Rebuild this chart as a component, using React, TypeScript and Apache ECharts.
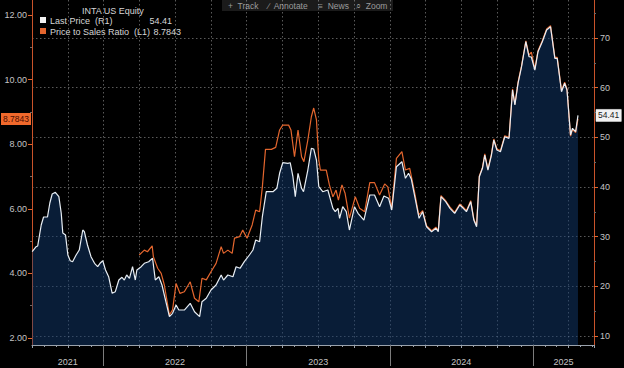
import React, { useEffect, useRef } from "react";
import * as echarts from "echarts";

// Last Price (R1) — dates and values
const priceDates = [
  "2021-07-03","2021-07-13","2021-07-17","2021-07-26","2021-08-01","2021-08-11","2021-08-17","2021-08-23","2021-08-31","2021-09-09",
  "2021-09-15","2021-09-19","2021-09-26","2021-10-02","2021-10-08","2021-10-14","2021-10-23","2021-10-31","2021-11-09","2021-11-13",
  "2021-11-21","2021-11-30","2021-12-09","2021-12-17","2021-12-23","2021-12-30","2022-01-06","2022-01-14","2022-01-23","2022-01-31",
  "2022-02-09","2022-02-17","2022-02-23","2022-03-01","2022-03-08","2022-03-16","2022-03-23","2022-03-27","2022-04-07","2022-04-15",
  "2022-04-26","2022-05-06","2022-05-13","2022-05-22","2022-05-30","2022-06-08","2022-06-18","2022-06-26","2022-07-05","2022-07-12",
  "2022-07-26","2022-08-10","2022-08-21","2022-09-03","2022-09-09","2022-09-20","2022-10-02","2022-10-15","2022-10-28","2022-11-03",
  "2022-11-14","2022-11-27","2022-12-05","2022-12-15","2022-12-26","2023-01-08","2023-01-17","2023-01-24","2023-02-03","2023-02-10",
  "2023-02-20","2023-03-09","2023-03-19","2023-03-26","2023-04-03","2023-04-16","2023-04-22","2023-04-29","2023-05-05","2023-05-12",
  "2023-05-21","2023-05-26","2023-06-06","2023-06-15","2023-06-21","2023-06-28","2023-07-04","2023-07-14","2023-07-27","2023-08-09",
  "2023-08-15","2023-08-22","2023-08-26","2023-09-03","2023-09-12","2023-09-20","2023-10-03","2023-10-12","2023-10-27","2023-11-11",
  "2023-11-23","2023-12-06","2023-12-17","2023-12-29","2024-01-06","2024-01-18","2024-02-01","2024-02-10","2024-02-18","2024-02-25",
  "2024-03-05","2024-03-16","2024-03-25","2024-04-04","2024-04-17","2024-04-28","2024-05-04","2024-05-11","2024-05-23","2024-06-03",
  "2024-06-15","2024-06-28","2024-07-07","2024-07-15","2024-07-26","2024-08-03","2024-08-10","2024-08-17","2024-08-25","2024-08-31",
  "2024-09-08","2024-09-17","2024-09-23","2024-10-01","2024-10-10","2024-10-21","2024-11-01","2024-11-10","2024-11-16","2024-11-24",
  "2024-12-03","2024-12-14","2024-12-22","2024-12-28","2025-01-06","2025-01-14","2025-01-25","2025-02-05","2025-02-15","2025-02-26",
  "2025-03-04","2025-03-15","2025-03-23","2025-03-29","2025-04-07","2025-04-12","2025-04-20","2025-04-26",
];
const priceValues = [
  26.97,27.98,28.12,32.35,33.96,33.96,36.78,38.59,38.93,38.05,
  34.76,30.74,30.33,26.31,25.16,24.96,26.31,27.31,31.34,31.0,
  28.32,25.97,24.64,23.95,24.64,25.16,23.29,21.94,18.6,18.92,
  21.27,21.82,21.27,22.28,21.62,23.95,21.27,23.29,23.95,24.64,
  24.96,25.64,21.27,21.94,20.27,17.25,13.89,14.57,16.24,15.23,
  15.23,16.58,14.89,13.89,16.91,17.59,19.26,20.27,22.28,21.27,
  22.28,21.94,23.95,23.63,24.96,26.31,27.31,29.33,28.99,34.02,
  39.05,39.05,39.74,42.76,44.89,44.77,44.89,42.07,38.05,42.76,
  39.74,39.05,43.42,47.79,47.65,45.43,40.06,39.05,39.39,35.71,
  35.03,35.71,33.7,36.03,35.03,31.34,36.03,34.7,33.35,38.39,
  38.39,36.03,38.19,37.72,35.37,44.08,45.09,41.75,42.76,41.61,
  38.05,33.7,35.03,32.0,31.0,31.68,31.0,38.05,37.04,35.71,
  34.7,36.37,35.71,35.03,37.04,33.35,32.0,42.07,43.76,46.44,
  43.42,46.44,49.46,47.45,47.1,50.12,49.8,59.53,56.51,60.88,
  64.22,69.25,66.23,66.17,63.55,67.24,69.25,71.61,72.27,65.91,
  65.91,59.19,60.88,59.53,50.47,51.82,51.13,54.41,
];

// Price to Sales Ratio (L1) — dates and values
const psDates = [
  "2022-04-02","2022-04-15","2022-04-23","2022-05-05","2022-05-08","2022-05-19","2022-05-28","2022-06-05","2022-06-18","2022-06-26",
  "2022-07-05","2022-07-15","2022-07-26","2022-08-10","2022-08-21","2022-09-01","2022-09-09","2022-09-20","2022-10-02","2022-10-15",
  "2022-10-28","2022-11-03","2022-11-14","2022-11-25","2022-12-01","2022-12-14","2022-12-22","2023-01-02","2023-01-15","2023-01-24",
  "2023-02-03","2023-02-10","2023-02-18","2023-03-05","2023-03-16","2023-03-26","2023-04-03","2023-04-18","2023-04-24","2023-05-03",
  "2023-05-12","2023-05-21","2023-05-27","2023-06-06","2023-06-15","2023-06-21","2023-06-28","2023-07-04","2023-07-08","2023-07-23",
  "2023-07-31","2023-08-09","2023-08-17","2023-08-23","2023-09-01","2023-09-09","2023-09-20","2023-10-05","2023-10-16","2023-10-29",
  "2023-11-11","2023-11-23","2023-12-06","2023-12-19","2023-12-27","2024-01-06","2024-01-18","2024-02-01","2024-02-10","2024-02-21",
  "2024-03-05","2024-03-15","2024-03-25","2024-04-04","2024-04-17","2024-04-28","2024-05-04","2024-05-11","2024-05-23","2024-06-03",
  "2024-06-15","2024-06-28","2024-07-07","2024-07-15","2024-07-26","2024-08-03","2024-08-10","2024-08-17","2024-08-25","2024-08-31",
  "2024-09-08","2024-09-17","2024-09-23","2024-10-01","2024-10-10","2024-10-21","2024-11-01","2024-11-10","2024-11-16","2024-11-24",
  "2024-12-03","2024-12-14","2024-12-22","2024-12-28","2025-01-06","2025-01-14","2025-01-25","2025-02-05","2025-02-15","2025-02-26",
  "2025-03-04","2025-03-15","2025-03-23","2025-03-29","2025-04-07","2025-04-12","2025-04-20","2025-04-26",
];
const psValues = [
  4.57,4.72,4.67,4.85,4.52,4.16,4.0,3.64,2.71,2.87,
  3.69,3.38,3.43,3.74,3.23,3.12,3.85,3.8,4.05,4.31,
  4.83,4.62,4.72,4.62,5.09,5.14,5.34,5.09,5.5,5.96,
  5.91,6.68,7.84,7.84,7.9,8.44,8.59,8.59,8.44,7.61,
  8.44,7.61,7.46,8.13,8.85,9.12,8.75,7.51,7.2,7.2,
  6.74,6.37,6.58,6.27,6.74,6.48,5.71,6.37,6.02,5.91,
  6.81,6.81,6.43,6.77,6.68,6.02,7.56,7.77,7.2,7.25,
  6.48,5.81,5.94,5.48,5.32,5.43,5.32,6.41,6.25,6.05,
  5.89,6.15,6.05,5.94,6.25,5.68,5.48,7.02,7.28,7.7,
  7.23,7.7,8.16,7.85,7.8,8.26,8.21,9.71,9.24,9.92,
  10.43,11.2,10.76,10.85,10.33,10.89,11.2,11.57,11.67,10.69,
  10.69,9.66,9.92,9.71,8.25,8.46,8.36,8.7843,
];

const leftTicks = [2, 4, 6, 8, 10, 12];
const leftMinorTicks = [3, 5, 7, 9, 11];
const rightTicks = [10, 20, 30, 40, 50, 60, 70];
const rightMinorTicks = [15, 25, 35, 45, 55, 65, 75];
const years = [2021, 2022, 2023, 2024, 2025];
const yearBoundaries = [2022, 2023, 2024, 2025];

const TICKER = "INTA US Equity";
const PRICE_NAME = "Last Price  (R1)";
const PS_NAME = "Price to Sales Ratio  (L1)";
const toolbarItems = ["+  Track", "\u2215  Annotate", "\u2261  News", "\u2315  Zoom"];

const X_MIN = 2021.5;
const X_MAX = 2025.427;
const L_MIN = 1.783;
const L_MAX = 12.464;
const R_MIN = 8.188;
const R_MAX = 77.65;

const FONT = "'Liberation Sans', Arial, sans-serif";
const ORANGE = "#e4662e";
const AXIS_ORANGE = "#c9532a";
const WHITE = "#e8eef4";
const LABEL = "#c4c4c4";

function toYear(s: string): number {
  const [y, m, d] = s.split("-").map(Number);
  const start = Date.UTC(y, 0, 1);
  const len = Date.UTC(y + 1, 0, 1) - start;
  return y + (Date.UTC(y, m - 1, d) - start) / len;
}

export default function App() {
  const ref = useRef<HTMLDivElement>(null);
  useEffect(() => {
    const chart = echarts.init(ref.current!, null, { renderer: "svg" });
    const priceData = priceDates.map((d, i) => [toYear(d), priceValues[i]]);
    const psData = psDates.map((d, i) => [toYear(d), psValues[i]]);
    const lastPrice = priceValues[priceValues.length - 1];
    const lastPs = psValues[psValues.length - 1];
    const yearCenters = years.map((y) => (Math.max(y, X_MIN) + Math.min(y + 1, X_MAX)) / 2);

    const gridLine = { show: true, lineStyle: { color: "rgba(215,215,215,0.42)", type: [1.5, 2.5], width: 1 } };

    const toolbarChildren: any[] = [
      { type: "rect", shape: { x: 222, y: 0, width: 171, height: 11 }, style: { fill: "#1b1b1b" } },
    ];
    const toolbarX = [228, 268, 318, 356];
    toolbarItems.forEach((t, i) => {
      toolbarChildren.push({
        type: "text",
        x: toolbarX[i],
        y: 5.5,
        style: { text: t, fill: "#9c9c9c", fontSize: 8.5, fontFamily: FONT, textVerticalAlign: "middle" },
      });
    });

    const hiddenLine = { width: 0, color: "rgba(0,0,0,0)", opacity: 1 };

    const option: any = {
      animation: false,
      backgroundColor: "#000",
      textStyle: { fontFamily: FONT },
      grid: { left: 32, right: 30, top: 0, bottom: 23, containLabel: false },
      xAxis: [
        {
          type: "value",
          min: X_MIN,
          max: X_MAX,
          interval: 0.25,
          axisLine: { show: true, onZero: false, lineStyle: { color: "#9aa2ac", width: 1 } },
          axisTick: { show: true, length: 3, lineStyle: { color: "#9aa2ac" } },
          minorTick: { show: true, splitNumber: 3, length: 2, lineStyle: { color: "#9aa2ac" } },
          axisLabel: { show: false },
          splitLine: gridLine,
        },
        {
          type: "value",
          min: X_MIN,
          max: X_MAX,
          position: "bottom",
          axisLine: { show: false, onZero: false },
          axisTick: { show: true, customValues: yearBoundaries, length: 21, lineStyle: { color: "#7c7c7c", width: 1 } },
          axisLabel: {
            show: true,
            customValues: yearCenters,
            formatter: (v: number) => String(Math.floor(v)),
            color: LABEL,
            fontSize: 9,
            margin: 12,
          },
          splitLine: { show: false },
        },
      ],
      yAxis: [
        {
          type: "value",
          position: "left",
          min: L_MIN,
          max: L_MAX,
          axisLine: { show: true, onZero: false, lineStyle: { color: AXIS_ORANGE, width: 1 } },
          axisTick: { show: true, customValues: leftTicks, length: 4, lineStyle: { color: ORANGE, width: 1 } },
          axisLabel: {
            show: true,
            customValues: leftTicks,
            formatter: (v: number) => v.toFixed(2),
            color: LABEL,
            fontSize: 9,
            margin: 5,
          },
          splitLine: { show: false },
        },
        {
          type: "value",
          position: "right",
          min: R_MIN,
          max: R_MAX,
          axisLine: { show: true, onZero: false, lineStyle: { color: AXIS_ORANGE, width: 1 } },
          axisTick: { show: true, customValues: rightTicks, length: 4, lineStyle: { color: ORANGE, width: 1 } },
          axisLabel: { show: true, customValues: rightTicks, color: LABEL, fontSize: 9, margin: 6 },
          splitLine: gridLine,
        },
        {
          type: "value",
          position: "left",
          min: L_MIN,
          max: L_MAX,
          axisLine: { show: false, onZero: false },
          axisTick: { show: true, customValues: leftMinorTicks, length: 2, lineStyle: { color: "#6a6a6a" } },
          axisLabel: { show: false },
          splitLine: { show: false },
        },
        {
          type: "value",
          position: "right",
          min: R_MIN,
          max: R_MAX,
          axisLine: { show: false, onZero: false },
          axisTick: { show: true, customValues: rightMinorTicks, length: 2, lineStyle: { color: "#6a6a6a" } },
          axisLabel: { show: false },
          splitLine: { show: false },
        },
      ],
      series: [
        {
          name: "area",
          type: "line",
          xAxisIndex: 0,
          yAxisIndex: 1,
          data: priceData,
          showSymbol: false,
          silent: true,
          lineStyle: { width: 0, opacity: 0 },
          areaStyle: { color: "rgba(17,58,108,0.72)", origin: "start" },
          z: 1,
        },
        {
          name: PS_NAME,
          type: "line",
          xAxisIndex: 0,
          yAxisIndex: 0,
          data: psData,
          showSymbol: false,
          clip: false,
          lineStyle: { color: ORANGE, width: 1.2 },
          z: 3,
          markLine: {
            silent: true,
            symbol: ["none", "none"],
            lineStyle: hiddenLine,
            label: {
              show: true,
              position: "start",
              distance: 1,
              opacity: 1,
              formatter: String(lastPs),
              backgroundColor: "#f0692c",
              color: "#4a0d00",
              fontSize: 8.5,
              padding: [2, 2, 1, 2],
            },
            data: [{ yAxis: lastPs }],
          },
        },
        {
          name: PRICE_NAME,
          type: "line",
          xAxisIndex: 0,
          yAxisIndex: 1,
          data: priceData,
          showSymbol: false,
          clip: false,
          lineStyle: { color: WHITE, width: 1.2 },
          z: 4,
          markLine: {
            silent: true,
            symbol: ["none", "none"],
            lineStyle: hiddenLine,
            label: {
              show: true,
              position: "end",
              distance: 2,
              opacity: 1,
              formatter: lastPrice.toFixed(2),
              backgroundColor: "#f2f2f2",
              borderColor: "#8a8a8a",
              borderWidth: 0.5,
              color: "#222",
              fontSize: 8.5,
              padding: [2, 2, 1, 2],
            },
            data: [{ yAxis: lastPrice }],
          },
        },
      ],
      graphic: [
        { type: "group", children: toolbarChildren },
        {
          type: "group",
          children: [
            {
              type: "text",
              x: 82,
              y: 11,
              style: { text: TICKER, fill: "#d6d6d6", fontSize: 9, fontFamily: FONT, textVerticalAlign: "middle" },
            },
            { type: "rect", shape: { x: 40, y: 17, width: 6, height: 6 }, style: { fill: "#f2f2f2" } },
            {
              type: "text",
              x: 50,
              y: 20.5,
              style: { text: PRICE_NAME, fill: "#d6d6d6", fontSize: 9, fontFamily: FONT, textVerticalAlign: "middle" },
            },
            {
              type: "text",
              x: 172,
              y: 20.5,
              style: { text: lastPrice.toFixed(2), fill: "#d6d6d6", fontSize: 9, fontFamily: FONT, textAlign: "right", textVerticalAlign: "middle" },
            },
            { type: "rect", shape: { x: 40, y: 28, width: 6, height: 6 }, style: { fill: ORANGE } },
            {
              type: "text",
              x: 50,
              y: 31.5,
              style: { text: PS_NAME, fill: "#d6d6d6", fontSize: 9, fontFamily: FONT, textVerticalAlign: "middle" },
            },
            {
              type: "text",
              x: 181,
              y: 31.5,
              style: { text: String(lastPs), fill: "#d6d6d6", fontSize: 9, fontFamily: FONT, textAlign: "right", textVerticalAlign: "middle" },
            },
          ],
        },
      ],
    };
    chart.setOption(option);
    return () => chart.dispose();
  }, []);
  return (
    <div
      ref={ref}
      style={{ position: "fixed", left: 0, top: 0, width: 624, height: 368, background: "#000" }}
    />
  );
}
